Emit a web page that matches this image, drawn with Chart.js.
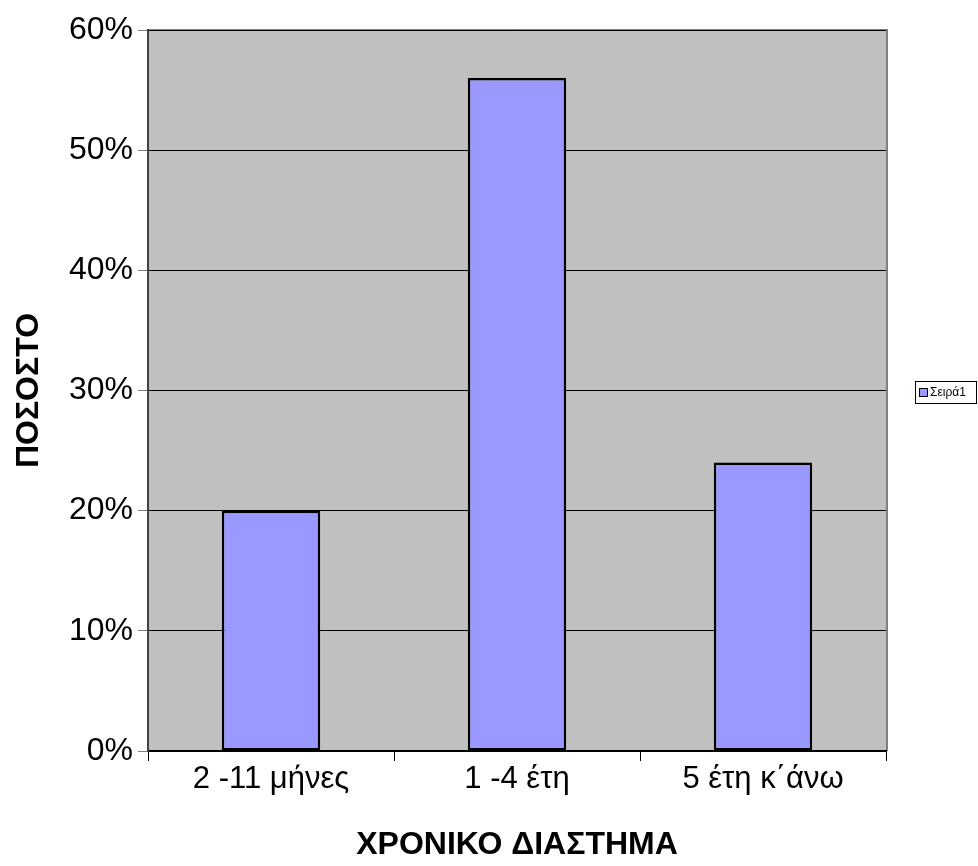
<!DOCTYPE html>
<html>
<head>
<meta charset="utf-8">
<script src="https://cdn.jsdelivr.net/npm/chart.js@4/dist/chart.umd.min.js"></script>
<style>
  html, body { margin: 0; padding: 0; background: #ffffff; }
  #wrap { width: 978px; height: 866px; }
</style>
</head>
<body>
<div id="wrap"><canvas id="chart" width="978" height="866"></canvas></div>
<script>
// Time periods and share of respondents (%)
const categories = ['2 -11 μήνες', '1 -4 έτη', '5 έτη κ΄άνω'];
const seriesName = 'Σειρά1';
const seriesValues = [20, 56, 24];
const yTicks = [0, 10, 20, 30, 40, 50, 60];
const xTitle = 'ΧΡΟΝΙΚΟ ΔΙΑΣΤΗΜΑ';
const yTitle = 'ΠΟΣΟΣΤΟ';

const FONT = '"Liberation Sans", Arial, sans-serif';

// Grey plot area with a thin frame, painted under the gridlines
const plotBackground = {
  id: 'plotBackground',
  beforeDraw(chart) {
    const { ctx, chartArea: a } = chart;
    ctx.save();
    ctx.fillStyle = '#C0C0C0';
    ctx.fillRect(a.left, a.top, a.right - a.left, a.bottom - a.top);
    ctx.strokeStyle = '#808080';
    ctx.lineWidth = 2;
    ctx.beginPath();
    ctx.moveTo(a.left, a.top);
    ctx.lineTo(a.right + 1, a.top);
    ctx.lineTo(a.right + 1, a.bottom);
    ctx.stroke();
    ctx.restore();
  }
};

// Boxed legend to the right of the plot
const sideLegend = {
  id: 'sideLegend',
  afterDraw(chart) {
    const { ctx } = chart;
    const ds = chart.data.datasets[0];
    const x = 915, y = 381, w = 61, h = 22;
    ctx.save();
    ctx.fillStyle = '#ffffff';
    ctx.fillRect(x, y, w, h);
    ctx.strokeStyle = '#000000';
    ctx.lineWidth = 1;
    ctx.strokeRect(x + 0.5, y + 0.5, w, h);
    ctx.fillStyle = ds.backgroundColor;
    ctx.fillRect(x + 5, y + 8, 7, 7);
    ctx.strokeRect(x + 4.5, y + 7.5, 8, 8);
    ctx.fillStyle = '#000000';
    ctx.font = '12px ' + FONT;
    ctx.textBaseline = 'middle';
    ctx.fillText(ds.label, x + 15, y + 12);
    ctx.restore();
  }
};

new Chart(document.getElementById('chart'), {
  type: 'bar',
  data: {
    labels: categories,
    datasets: [{
      label: seriesName,
      data: seriesValues,
      backgroundColor: '#9999FF',
      borderColor: '#000000',
      borderWidth: 2.5,
      borderSkipped: false,
      barPercentage: 0.4,
      categoryPercentage: 1.0
    }]
  },
  options: {
    responsive: false,
    animation: false,
    layout: { padding: { top: 30, right: 92, bottom: 0, left: 0 } },
    plugins: {
      legend: { display: false },
      tooltip: { enabled: false }
    },
    scales: {
      x: {
        afterFit(scale) { scale.height = 115; },
        border: { color: '#000000', width: 2 },
        grid: {
          offset: true,
          drawOnChartArea: false,
          drawTicks: true,
          tickLength: 10,
          color: '#000000',
          lineWidth: 1
        },
        ticks: {
          padding: 0,
          color: '#000000',
          font: { family: FONT, size: 31 }
        },
        title: {
          display: true,
          text: xTitle,
          color: '#000000',
          font: { family: FONT, size: 32, weight: 'bold' },
          padding: { top: 0, bottom: 2 }
        }
      },
      y: {
        min: 0,
        max: 60,
        afterFit(scale) { scale.width = 148; },
        afterBuildTicks(scale) { scale.ticks = yTicks.map(v => ({ value: v })); },
        border: { color: '#404040', width: 2 },
        grid: {
          color: '#000000',
          lineWidth: 1,
          drawTicks: true,
          tickLength: 10,
          tickColor: '#808080'
        },
        ticks: {
          padding: 5,
          color: '#000000',
          font: { family: FONT, size: 32 },
          callback: v => v + '%'
        },
        title: {
          display: true,
          text: yTitle,
          color: '#000000',
          font: { family: FONT, size: 32, weight: 'bold' },
          padding: { top: 10, bottom: 0 }
        }
      }
    }
  },
  plugins: [plotBackground, sideLegend]
});
</script>
</body>
</html>
